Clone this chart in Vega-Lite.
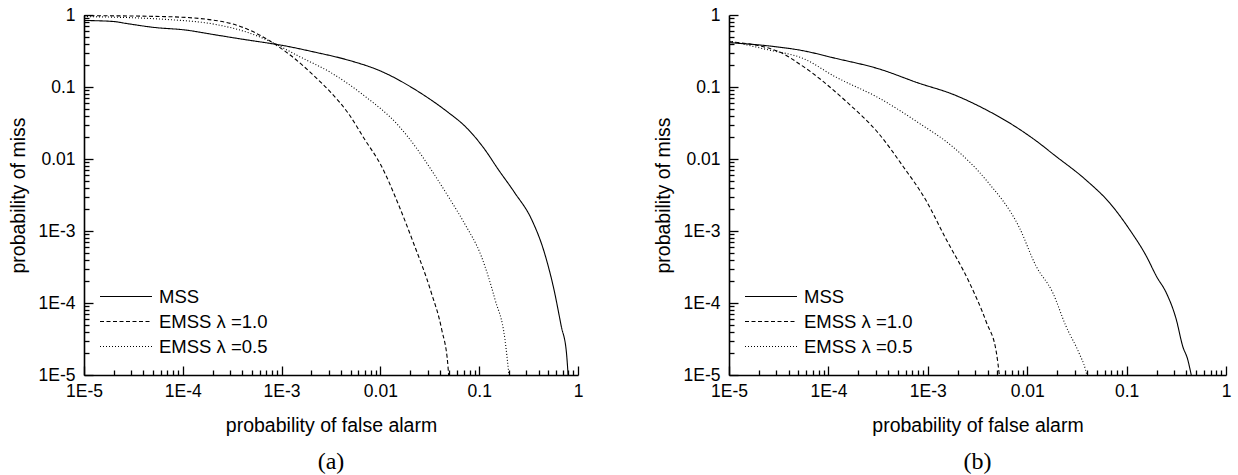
{
  "$schema": "https://vega.github.io/schema/vega-lite/v6.json",
  "padding": {"left": 8, "top": 6, "right": 5, "bottom": 5},
  "background": "white",
  "config": {
    "view": {"stroke": null},
    "axis": {
      "grid": false,
      "ticks": true,
      "zindex": 1,
      "domainColor": "black",
      "domainWidth": 1.6,
      "tickColor": "black",
      "tickWidth": 1.3,
      "labelFont": "Liberation Sans",
      "labelFontSize": 17.5,
      "labelColor": "black",
      "titleFont": "Liberation Sans",
      "titleFontSize": 19.5,
      "titleFontWeight": "normal",
      "titleColor": "black",
      "labelOverlap": false,
      "labelFlush": false,
      "labelBound": false
    },
    "legend": {
      "orient": "none",
      "legendX": 15,
      "legendY": 269,
      "symbolType": "stroke",
      "symbolSize": 2704,
      "symbolStrokeWidth": 1.2,
      "symbolStrokeColor": "black",
      "labelFont": "Liberation Sans",
      "labelFontSize": 18.5,
      "labelColor": "black",
      "labelOffset": 6,
      "clipHeight": 25,
      "rowPadding": 0,
      "padding": 0,
      "title": null
    }
  },
  "data": {
    "values": [
      {"panel": "a", "series": "MSS", "fa": 1e-5, "miss": 0.84},
      {"panel": "a", "series": "MSS", "fa": 2.04e-5, "miss": 0.81},
      {"panel": "a", "series": "MSS", "fa": 2.57e-5, "miss": 0.77},
      {"panel": "a", "series": "MSS", "fa": 5.25e-5, "miss": 0.67},
      {"panel": "a", "series": "MSS", "fa": 1.05e-4, "miss": 0.62},
      {"panel": "a", "series": "MSS", "fa": 2.14e-4, "miss": 0.53},
      {"panel": "a", "series": "MSS", "fa": 4.27e-4, "miss": 0.455},
      {"panel": "a", "series": "MSS", "fa": 6.76e-4, "miss": 0.414},
      {"panel": "a", "series": "MSS", "fa": 1e-3, "miss": 0.38},
      {"panel": "a", "series": "MSS", "fa": 2.14e-3, "miss": 0.306},
      {"panel": "a", "series": "MSS", "fa": 4.68e-3, "miss": 0.237},
      {"panel": "a", "series": "MSS", "fa": 0.01, "miss": 0.167},
      {"panel": "a", "series": "MSS", "fa": 0.024, "miss": 0.087},
      {"panel": "a", "series": "MSS", "fa": 0.0483, "miss": 0.0446},
      {"panel": "a", "series": "MSS", "fa": 0.0713, "miss": 0.0288},
      {"panel": "a", "series": "MSS", "fa": 0.1135, "miss": 0.01365},
      {"panel": "a", "series": "MSS", "fa": 0.155, "miss": 0.00724},
      {"panel": "a", "series": "MSS", "fa": 0.229, "miss": 0.00339},
      {"panel": "a", "series": "MSS", "fa": 0.339, "miss": 0.00145},
      {"panel": "a", "series": "MSS", "fa": 0.457, "miss": 5.0e-4},
      {"panel": "a", "series": "MSS", "fa": 0.581, "miss": 1.38e-4},
      {"panel": "a", "series": "MSS", "fa": 0.676, "miss": 4.8e-5},
      {"panel": "a", "series": "MSS", "fa": 0.764, "miss": 2.04e-5},
      {"panel": "a", "series": "MSS", "fa": 0.794, "miss": 1e-5},

      {"panel": "a", "series": "EMSS λ =1.0", "fa": 1e-5, "miss": 0.98},
      {"panel": "a", "series": "EMSS λ =1.0", "fa": 6.6e-5, "miss": 0.95},
      {"panel": "a", "series": "EMSS λ =1.0", "fa": 2.14e-4, "miss": 0.84},
      {"panel": "a", "series": "EMSS λ =1.0", "fa": 3.2e-4, "miss": 0.75},
      {"panel": "a", "series": "EMSS λ =1.0", "fa": 4.57e-4, "miss": 0.63},
      {"panel": "a", "series": "EMSS λ =1.0", "fa": 7.94e-4, "miss": 0.42},
      {"panel": "a", "series": "EMSS λ =1.0", "fa": 1.26e-3, "miss": 0.269},
      {"panel": "a", "series": "EMSS λ =1.0", "fa": 2.14e-3, "miss": 0.142},
      {"panel": "a", "series": "EMSS λ =1.0", "fa": 3.16e-3, "miss": 0.0836},
      {"panel": "a", "series": "EMSS λ =1.0", "fa": 4.68e-3, "miss": 0.044},
      {"panel": "a", "series": "EMSS λ =1.0", "fa": 6.92e-3, "miss": 0.0188},
      {"panel": "a", "series": "EMSS λ =1.0", "fa": 0.01023, "miss": 0.008},
      {"panel": "a", "series": "EMSS λ =1.0", "fa": 0.0151, "miss": 0.0024},
      {"panel": "a", "series": "EMSS λ =1.0", "fa": 0.0214, "miss": 7.08e-4},
      {"panel": "a", "series": "EMSS λ =1.0", "fa": 0.0327, "miss": 1.4e-4},
      {"panel": "a", "series": "EMSS λ =1.0", "fa": 0.0417, "miss": 4.3e-5},
      {"panel": "a", "series": "EMSS λ =1.0", "fa": 0.0483, "miss": 1.33e-5},
      {"panel": "a", "series": "EMSS λ =1.0", "fa": 0.049, "miss": 1e-5},

      {"panel": "a", "series": "EMSS λ =0.5", "fa": 1e-5, "miss": 0.95},
      {"panel": "a", "series": "EMSS λ =0.5", "fa": 6.6e-5, "miss": 0.87},
      {"panel": "a", "series": "EMSS λ =0.5", "fa": 2.14e-4, "miss": 0.74},
      {"panel": "a", "series": "EMSS λ =0.5", "fa": 4.57e-4, "miss": 0.57},
      {"panel": "a", "series": "EMSS λ =0.5", "fa": 7.94e-4, "miss": 0.42},
      {"panel": "a", "series": "EMSS λ =0.5", "fa": 1.48e-3, "miss": 0.269},
      {"panel": "a", "series": "EMSS λ =0.5", "fa": 3.16e-3, "miss": 0.158},
      {"panel": "a", "series": "EMSS λ =0.5", "fa": 6.92e-3, "miss": 0.075},
      {"panel": "a", "series": "EMSS λ =0.5", "fa": 0.0151, "miss": 0.0295},
      {"panel": "a", "series": "EMSS λ =0.5", "fa": 0.0224, "miss": 0.0151},
      {"panel": "a", "series": "EMSS λ =0.5", "fa": 0.0327, "miss": 7.08e-3},
      {"panel": "a", "series": "EMSS λ =0.5", "fa": 0.0501, "miss": 2.82e-3},
      {"panel": "a", "series": "EMSS λ =0.5", "fa": 0.0713, "miss": 1.26e-3},
      {"panel": "a", "series": "EMSS λ =0.5", "fa": 0.105, "miss": 4.47e-4},
      {"panel": "a", "series": "EMSS λ =0.5", "fa": 0.1445, "miss": 1.12e-4},
      {"panel": "a", "series": "EMSS λ =0.5", "fa": 0.182, "miss": 3.16e-5},
      {"panel": "a", "series": "EMSS λ =0.5", "fa": 0.2, "miss": 1e-5},

      {"panel": "b", "series": "MSS", "fa": 1e-5, "miss": 0.413},
      {"panel": "b", "series": "MSS", "fa": 2.51e-5, "miss": 0.372},
      {"panel": "b", "series": "MSS", "fa": 5.5e-5, "miss": 0.32},
      {"panel": "b", "series": "MSS", "fa": 1.17e-4, "miss": 0.251},
      {"panel": "b", "series": "MSS", "fa": 3.24e-4, "miss": 0.178},
      {"panel": "b", "series": "MSS", "fa": 8.13e-4, "miss": 0.113},
      {"panel": "b", "series": "MSS", "fa": 1.78e-3, "miss": 0.0794},
      {"panel": "b", "series": "MSS", "fa": 3.89e-3, "miss": 0.048},
      {"panel": "b", "series": "MSS", "fa": 7.13e-3, "miss": 0.0298},
      {"panel": "b", "series": "MSS", "fa": 0.0132, "miss": 0.0166},
      {"panel": "b", "series": "MSS", "fa": 0.0182, "miss": 0.0117},
      {"panel": "b", "series": "MSS", "fa": 0.0389, "miss": 5.13e-3},
      {"panel": "b", "series": "MSS", "fa": 0.0676, "miss": 2.45e-3},
      {"panel": "b", "series": "MSS", "fa": 0.107, "miss": 1.05e-3},
      {"panel": "b", "series": "MSS", "fa": 0.158, "miss": 4.47e-4},
      {"panel": "b", "series": "MSS", "fa": 0.2, "miss": 2.34e-4},
      {"panel": "b", "series": "MSS", "fa": 0.251, "miss": 1.38e-4},
      {"panel": "b", "series": "MSS", "fa": 0.316, "miss": 5.9e-5},
      {"panel": "b", "series": "MSS", "fa": 0.367, "miss": 2.5e-5},
      {"panel": "b", "series": "MSS", "fa": 0.412, "miss": 1.64e-5},
      {"panel": "b", "series": "MSS", "fa": 0.447, "miss": 1e-5},

      {"panel": "b", "series": "EMSS λ =1.0", "fa": 1e-5, "miss": 0.427},
      {"panel": "b", "series": "EMSS λ =1.0", "fa": 3.16e-5, "miss": 0.31},
      {"panel": "b", "series": "EMSS λ =1.0", "fa": 5.25e-5, "miss": 0.204},
      {"panel": "b", "series": "EMSS λ =1.0", "fa": 1.51e-4, "miss": 0.063},
      {"panel": "b", "series": "EMSS λ =1.0", "fa": 3.24e-4, "miss": 0.0222},
      {"panel": "b", "series": "EMSS λ =1.0", "fa": 5.62e-4, "miss": 7.94e-3},
      {"panel": "b", "series": "EMSS λ =1.0", "fa": 9.55e-4, "miss": 2.69e-3},
      {"panel": "b", "series": "EMSS λ =1.0", "fa": 1.51e-3, "miss": 7.94e-4},
      {"panel": "b", "series": "EMSS λ =1.0", "fa": 2.63e-3, "miss": 1.9e-4},
      {"panel": "b", "series": "EMSS λ =1.0", "fa": 3.89e-3, "miss": 5.37e-5},
      {"panel": "b", "series": "EMSS λ =1.0", "fa": 4.9e-3, "miss": 2.04e-5},
      {"panel": "b", "series": "EMSS λ =1.0", "fa": 5.25e-3, "miss": 1e-5},

      {"panel": "b", "series": "EMSS λ =0.5", "fa": 1e-5, "miss": 0.436},
      {"panel": "b", "series": "EMSS λ =0.5", "fa": 2.51e-5, "miss": 0.327},
      {"panel": "b", "series": "EMSS λ =0.5", "fa": 5.5e-5, "miss": 0.251},
      {"panel": "b", "series": "EMSS λ =0.5", "fa": 1.17e-4, "miss": 0.139},
      {"panel": "b", "series": "EMSS λ =0.5", "fa": 3.24e-4, "miss": 0.07},
      {"panel": "b", "series": "EMSS λ =0.5", "fa": 8.13e-4, "miss": 0.0316},
      {"panel": "b", "series": "EMSS λ =0.5", "fa": 1.78e-3, "miss": 0.0148},
      {"panel": "b", "series": "EMSS λ =0.5", "fa": 3.85e-3, "miss": 5.13e-3},
      {"panel": "b", "series": "EMSS λ =0.5", "fa": 8.32e-3, "miss": 1.12e-3},
      {"panel": "b", "series": "EMSS λ =0.5", "fa": 0.0123, "miss": 3.24e-4},
      {"panel": "b", "series": "EMSS λ =0.5", "fa": 0.018, "miss": 1.41e-4},
      {"panel": "b", "series": "EMSS λ =0.5", "fa": 0.0245, "miss": 4.8e-5},
      {"panel": "b", "series": "EMSS λ =0.5", "fa": 0.0331, "miss": 2.04e-5},
      {"panel": "b", "series": "EMSS λ =0.5", "fa": 0.0385, "miss": 1.2e-5},
      {"panel": "b", "series": "EMSS λ =0.5", "fa": 0.0398, "miss": 1e-5}
    ]
  },
  "spacing": 151,
  "bounds": "flush",
  "resolve": {"scale": {"strokeDash": "independent"}, "legend": {"strokeDash": "independent"}},
  "hconcat": [
    {
      "width": 494,
      "height": 360,
      "title": {"text": "(a)", "orient": "bottom", "font": "Liberation Serif", "fontSize": 24, "fontWeight": "normal", "color": "black", "offset": 15},
      "transform": [{"filter": "datum.panel === 'a'"}],
      "mark": {"type": "line", "color": "black", "strokeWidth": 1.1, "interpolate": "monotone", "clip": true},
      "encoding": {
        "x": {
          "field": "fa", "type": "quantitative",
          "scale": {"type": "log", "domain": [1e-5, 1], "nice": false},
          "axis": {
            "title": "probability of false alarm",
            "values": [1e-5,2e-5,3e-5,4e-5,5e-5,6e-5,7e-5,8e-5,9e-5,1e-4,2e-4,3e-4,4e-4,5e-4,6e-4,7e-4,8e-4,9e-4,1e-3,2e-3,3e-3,4e-3,5e-3,6e-3,7e-3,8e-3,9e-3,0.01,0.02,0.03,0.04,0.05,0.06,0.07,0.08,0.09,0.1,0.2,0.3,0.4,0.5,0.6,0.7,0.8,0.9,1],
            "labelExpr": "datum.value == 1 ? '1' : datum.value == 0.1 ? '0.1' : datum.value == 0.01 ? '0.01' : datum.value == 0.001 ? '1E-3' : datum.value == 0.0001 ? '1E-4' : datum.value == 0.00001 ? '1E-5' : ''",
            "tickSize": {"condition": {"test": "datum.value == 1 || datum.value == 0.1 || datum.value == 0.01 || datum.value == 0.001 || datum.value == 0.0001 || datum.value == 0.00001", "value": -9}, "value": -5},
            "labelPadding": 16,
            "titlePadding": 13
          }
        },
        "y": {
          "field": "miss", "type": "quantitative",
          "scale": {"type": "log", "domain": [1e-5, 1], "nice": false},
          "axis": {
            "title": "probability of miss",
            "values": [1e-5,2e-5,3e-5,4e-5,5e-5,6e-5,7e-5,8e-5,9e-5,1e-4,2e-4,3e-4,4e-4,5e-4,6e-4,7e-4,8e-4,9e-4,1e-3,2e-3,3e-3,4e-3,5e-3,6e-3,7e-3,8e-3,9e-3,0.01,0.02,0.03,0.04,0.05,0.06,0.07,0.08,0.09,0.1,0.2,0.3,0.4,0.5,0.6,0.7,0.8,0.9,1],
            "labelExpr": "datum.value == 1 ? '1' : datum.value == 0.1 ? '0.1' : datum.value == 0.01 ? '0.01' : datum.value == 0.001 ? '1E-3' : datum.value == 0.0001 ? '1E-4' : datum.value == 0.00001 ? '1E-5' : ''",
            "tickSize": {"condition": {"test": "datum.value == 1 || datum.value == 0.1 || datum.value == 0.01 || datum.value == 0.001 || datum.value == 0.0001 || datum.value == 0.00001", "value": -9}, "value": -5},
            "labelPadding": 18,
            "titlePadding": 10
          }
        },
        "strokeDash": {
          "field": "series", "type": "nominal",
          "scale": {"domain": ["MSS", "EMSS λ =1.0", "EMSS λ =0.5"], "range": [[1, 0], [4, 2.5], [1, 2]]},
          "legend": {}
        }
      }
    },
    {
      "width": 497,
      "height": 360,
      "title": {"text": "(b)", "orient": "bottom", "font": "Liberation Serif", "fontSize": 24, "fontWeight": "normal", "color": "black", "offset": 15},
      "transform": [{"filter": "datum.panel === 'b'"}],
      "mark": {"type": "line", "color": "black", "strokeWidth": 1.1, "interpolate": "monotone", "clip": true},
      "encoding": {
        "x": {
          "field": "fa", "type": "quantitative",
          "scale": {"type": "log", "domain": [1e-5, 1], "nice": false},
          "axis": {
            "title": "probability of false alarm",
            "values": [1e-5,2e-5,3e-5,4e-5,5e-5,6e-5,7e-5,8e-5,9e-5,1e-4,2e-4,3e-4,4e-4,5e-4,6e-4,7e-4,8e-4,9e-4,1e-3,2e-3,3e-3,4e-3,5e-3,6e-3,7e-3,8e-3,9e-3,0.01,0.02,0.03,0.04,0.05,0.06,0.07,0.08,0.09,0.1,0.2,0.3,0.4,0.5,0.6,0.7,0.8,0.9,1],
            "labelExpr": "datum.value == 1 ? '1' : datum.value == 0.1 ? '0.1' : datum.value == 0.01 ? '0.01' : datum.value == 0.001 ? '1E-3' : datum.value == 0.0001 ? '1E-4' : datum.value == 0.00001 ? '1E-5' : ''",
            "tickSize": {"condition": {"test": "datum.value == 1 || datum.value == 0.1 || datum.value == 0.01 || datum.value == 0.001 || datum.value == 0.0001 || datum.value == 0.00001", "value": -9}, "value": -5},
            "labelPadding": 16,
            "titlePadding": 13
          }
        },
        "y": {
          "field": "miss", "type": "quantitative",
          "scale": {"type": "log", "domain": [1e-5, 1], "nice": false},
          "axis": {
            "title": "probability of miss",
            "values": [1e-5,2e-5,3e-5,4e-5,5e-5,6e-5,7e-5,8e-5,9e-5,1e-4,2e-4,3e-4,4e-4,5e-4,6e-4,7e-4,8e-4,9e-4,1e-3,2e-3,3e-3,4e-3,5e-3,6e-3,7e-3,8e-3,9e-3,0.01,0.02,0.03,0.04,0.05,0.06,0.07,0.08,0.09,0.1,0.2,0.3,0.4,0.5,0.6,0.7,0.8,0.9,1],
            "labelExpr": "datum.value == 1 ? '1' : datum.value == 0.1 ? '0.1' : datum.value == 0.01 ? '0.01' : datum.value == 0.001 ? '1E-3' : datum.value == 0.0001 ? '1E-4' : datum.value == 0.00001 ? '1E-5' : ''",
            "tickSize": {"condition": {"test": "datum.value == 1 || datum.value == 0.1 || datum.value == 0.01 || datum.value == 0.001 || datum.value == 0.0001 || datum.value == 0.00001", "value": -9}, "value": -5},
            "labelPadding": 18,
            "titlePadding": 10
          }
        },
        "strokeDash": {
          "field": "series", "type": "nominal",
          "scale": {"domain": ["MSS", "EMSS λ =1.0", "EMSS λ =0.5"], "range": [[1, 0], [4, 2.5], [1, 2]]},
          "legend": {}
        }
      }
    }
  ]
}
